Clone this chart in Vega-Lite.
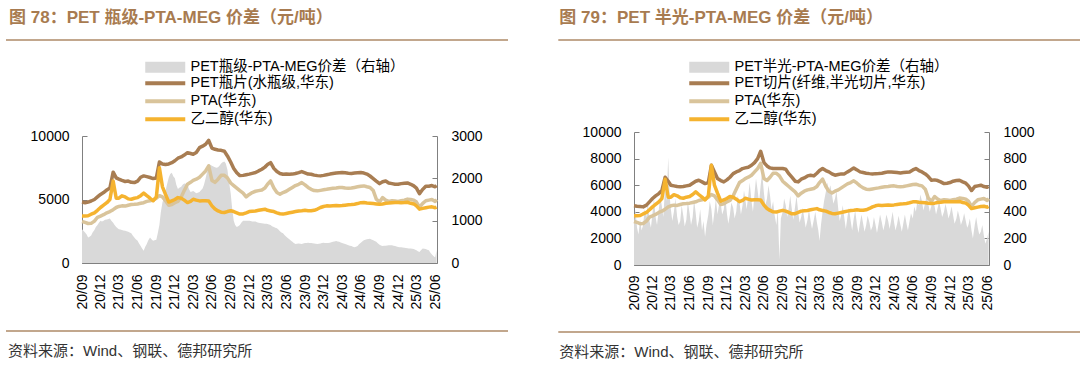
{
 "$schema": "https://vega.github.io/schema/vega-lite/v6.json",
 "background": "white",
 "padding": {"left": 5, "top": 0, "right": 0, "bottom": 0},
 "config": {
  "view": {"stroke": null},
  "font": "Liberation Sans, Noto Sans CJK SC",
  "axis": {"grid": false, "domainColor": "#808080", "tickColor": "#808080", "labelFontSize": 14, "labelColor": "#000000", "labelFont": "Liberation Sans, Noto Sans CJK SC", "tickSize": -5}
 },
 "datasets": {
  "rows": [
  {"d":"2020-09-01","petb":4800,"petf":4450,"pta":3270,"meg":3710},
  {"d":"2020-09-16","petb":4750,"petf":4420,"pta":3200,"meg":3700},
  {"d":"2020-10-01","petb":4800,"petf":4400,"pta":3110,"meg":3720},
  {"d":"2020-10-16","petb":4880,"petf":4370,"pta":3120,"meg":3840},
  {"d":"2020-11-01","petb":5000,"petf":4500,"pta":3300,"meg":3950},
  {"d":"2020-11-16","petb":5200,"petf":4750,"pta":3600,"meg":4150},
  {"d":"2020-12-01","petb":5400,"petf":5000,"pta":3700,"meg":4370},
  {"d":"2020-12-16","petb":5550,"petf":5200,"pta":3800,"meg":4550},
  {"d":"2021-01-01","petb":5750,"petf":5370,"pta":3950,"meg":4750},
  {"d":"2021-01-16","petb":5900,"petf":5600,"pta":4050,"meg":5000},
  {"d":"2021-02-01","petb":7150,"petf":6600,"pta":4200,"meg":6450},
  {"d":"2021-02-16","petb":6700,"petf":6300,"pta":4370,"meg":5100},
  {"d":"2021-03-01","petb":6600,"petf":6000,"pta":4450,"meg":5100},
  {"d":"2021-03-16","petb":6500,"petf":5950,"pta":4500,"meg":5290},
  {"d":"2021-04-01","petb":6420,"petf":5900,"pta":4480,"meg":5200},
  {"d":"2021-04-16","petb":6450,"petf":5880,"pta":4550,"meg":5050},
  {"d":"2021-05-01","petb":6350,"petf":5900,"pta":4600,"meg":5020},
  {"d":"2021-05-16","petb":6330,"petf":5950,"pta":4620,"meg":5100},
  {"d":"2021-06-01","petb":6450,"petf":6000,"pta":4650,"meg":5150},
  {"d":"2021-06-16","petb":6750,"petf":6150,"pta":4700,"meg":5300},
  {"d":"2021-07-01","petb":6860,"petf":6300,"pta":4750,"meg":5500},
  {"d":"2021-07-16","petb":6800,"petf":6370,"pta":4850,"meg":5300},
  {"d":"2021-08-01","petb":6730,"petf":6250,"pta":4900,"meg":5100},
  {"d":"2021-08-16","petb":6650,"petf":6120,"pta":4950,"meg":4900},
  {"d":"2021-09-01","petb":6700,"petf":6200,"pta":5100,"meg":5200},
  {"d":"2021-09-16","petb":7950,"petf":7500,"pta":5300,"meg":7500},
  {"d":"2021-10-01","petb":7800,"petf":7000,"pta":5200,"meg":6000},
  {"d":"2021-10-16","petb":7750,"petf":6500,"pta":4900,"meg":5400},
  {"d":"2021-11-01","petb":7800,"petf":6350,"pta":4550,"meg":4800},
  {"d":"2021-11-16","petb":7900,"petf":6250,"pta":4600,"meg":4900},
  {"d":"2021-12-01","petb":8050,"petf":6400,"pta":4750,"meg":5000},
  {"d":"2021-12-16","petb":8250,"petf":6600,"pta":4850,"meg":5150},
  {"d":"2022-01-01","petb":8350,"petf":6870,"pta":5200,"meg":5100},
  {"d":"2022-01-16","petb":8500,"petf":7000,"pta":5700,"meg":4950},
  {"d":"2022-02-01","petb":8690,"petf":7100,"pta":6200,"meg":4760},
  {"d":"2022-02-16","petb":8620,"petf":7250,"pta":6350,"meg":4850},
  {"d":"2022-03-01","petb":8560,"petf":7300,"pta":6500,"meg":5020},
  {"d":"2022-03-16","petb":8700,"petf":7350,"pta":6600,"meg":4950},
  {"d":"2022-04-01","petb":9080,"petf":7500,"pta":6750,"meg":4890},
  {"d":"2022-04-16","petb":9200,"petf":7700,"pta":7000,"meg":4900},
  {"d":"2022-05-01","petb":9350,"petf":8000,"pta":7250,"meg":4900},
  {"d":"2022-05-16","petb":9650,"petf":8550,"pta":7650,"meg":4890},
  {"d":"2022-06-01","petb":9050,"petf":7700,"pta":6500,"meg":4500},
  {"d":"2022-06-16","petb":8950,"petf":7450,"pta":6350,"meg":4250},
  {"d":"2022-07-01","petb":8900,"petf":7300,"pta":6600,"meg":4100},
  {"d":"2022-07-16","petb":8870,"petf":7250,"pta":6900,"meg":4000},
  {"d":"2022-08-01","petb":8800,"petf":7250,"pta":6900,"meg":3980},
  {"d":"2022-08-16","petb":8430,"petf":7250,"pta":6700,"meg":4050},
  {"d":"2022-09-01","petb":7950,"petf":7250,"pta":6300,"meg":4110},
  {"d":"2022-09-16","petb":7450,"petf":7200,"pta":6100,"meg":4050},
  {"d":"2022-10-01","petb":7100,"petf":6870,"pta":5900,"meg":3950},
  {"d":"2022-10-16","petb":6880,"petf":6600,"pta":5700,"meg":3850},
  {"d":"2022-11-01","petb":6900,"petf":6300,"pta":5500,"meg":3860},
  {"d":"2022-11-16","petb":6950,"petf":6250,"pta":5200,"meg":3950},
  {"d":"2022-12-01","petb":7000,"petf":6450,"pta":5400,"meg":4050},
  {"d":"2022-12-16","petb":7060,"petf":6550,"pta":5550,"meg":4080},
  {"d":"2023-01-01","petb":7120,"petf":6700,"pta":5650,"meg":4100},
  {"d":"2023-01-16","petb":7250,"petf":6750,"pta":5700,"meg":4150},
  {"d":"2023-02-01","petb":7380,"petf":6700,"pta":5750,"meg":4200},
  {"d":"2023-02-16","petb":7550,"petf":6900,"pta":5900,"meg":4240},
  {"d":"2023-03-01","petb":7750,"petf":7100,"pta":6200,"meg":4150},
  {"d":"2023-03-16","petb":7900,"petf":7250,"pta":6460,"meg":4100},
  {"d":"2023-04-01","petb":7450,"petf":7100,"pta":5900,"meg":4050},
  {"d":"2023-04-16","petb":7200,"petf":7000,"pta":5550,"meg":3950},
  {"d":"2023-05-01","petb":7050,"petf":6850,"pta":5420,"meg":3880},
  {"d":"2023-05-16","petb":6990,"petf":6750,"pta":5550,"meg":3850},
  {"d":"2023-06-01","petb":7000,"petf":6800,"pta":5650,"meg":3900},
  {"d":"2023-06-16","petb":6990,"petf":6850,"pta":5800,"meg":3950},
  {"d":"2023-07-01","petb":7000,"petf":6850,"pta":5950,"meg":4000},
  {"d":"2023-07-16","petb":7050,"petf":7000,"pta":6100,"meg":4050},
  {"d":"2023-08-01","petb":7120,"petf":7150,"pta":6200,"meg":4100},
  {"d":"2023-08-16","petb":7200,"petf":7300,"pta":6330,"meg":4120},
  {"d":"2023-09-01","petb":7100,"petf":7150,"pta":6150,"meg":4150},
  {"d":"2023-09-16","petb":7000,"petf":7000,"pta":5950,"meg":4120},
  {"d":"2023-10-01","petb":6990,"petf":6950,"pta":5800,"meg":4110},
  {"d":"2023-10-16","petb":6920,"petf":6900,"pta":5700,"meg":4150},
  {"d":"2023-11-01","petb":6880,"petf":6870,"pta":5680,"meg":4250},
  {"d":"2023-11-16","petb":6860,"petf":6850,"pta":5720,"meg":4370},
  {"d":"2023-12-01","petb":6900,"petf":6870,"pta":5760,"meg":4450},
  {"d":"2023-12-16","petb":6950,"petf":6880,"pta":5800,"meg":4500},
  {"d":"2024-01-01","petb":7000,"petf":6900,"pta":5850,"meg":4480},
  {"d":"2024-01-16","petb":7040,"petf":6950,"pta":5880,"meg":4500},
  {"d":"2024-02-01","petb":7080,"petf":7000,"pta":5900,"meg":4520},
  {"d":"2024-02-16","petb":7100,"petf":7000,"pta":5940,"meg":4500},
  {"d":"2024-03-01","petb":7120,"petf":6980,"pta":5950,"meg":4520},
  {"d":"2024-03-16","petb":7100,"petf":6950,"pta":5900,"meg":4550},
  {"d":"2024-04-01","petb":7070,"petf":6920,"pta":5880,"meg":4580},
  {"d":"2024-04-16","petb":7050,"petf":6950,"pta":5900,"meg":4600},
  {"d":"2024-05-01","petb":7080,"petf":6980,"pta":5950,"meg":4630},
  {"d":"2024-05-16","petb":7100,"petf":7000,"pta":6000,"meg":4680},
  {"d":"2024-06-01","petb":7120,"petf":7150,"pta":6050,"meg":4750},
  {"d":"2024-06-16","petb":7080,"petf":7250,"pta":6070,"meg":4760},
  {"d":"2024-07-01","petb":7000,"petf":7100,"pta":6000,"meg":4720},
  {"d":"2024-07-16","petb":6850,"petf":7000,"pta":5950,"meg":4700},
  {"d":"2024-08-01","petb":6650,"petf":6850,"pta":5700,"meg":4680},
  {"d":"2024-08-16","petb":6450,"petf":6650,"pta":5030,"meg":4650},
  {"d":"2024-09-01","petb":6250,"petf":6370,"pta":4800,"meg":4620},
  {"d":"2024-09-16","petb":6400,"petf":6400,"pta":5150,"meg":4650},
  {"d":"2024-10-01","petb":6460,"petf":6350,"pta":4950,"meg":4700},
  {"d":"2024-10-16","petb":6300,"petf":6250,"pta":4850,"meg":4720},
  {"d":"2024-11-01","petb":6250,"petf":6120,"pta":4900,"meg":4750},
  {"d":"2024-11-16","petb":6200,"petf":6150,"pta":4880,"meg":4760},
  {"d":"2024-12-01","petb":6200,"petf":6200,"pta":4850,"meg":4760},
  {"d":"2024-12-16","petb":6250,"petf":6300,"pta":4900,"meg":4750},
  {"d":"2025-01-01","petb":6280,"petf":6350,"pta":4950,"meg":4760},
  {"d":"2025-01-16","petb":6300,"petf":6370,"pta":5030,"meg":4780},
  {"d":"2025-02-01","petb":6200,"petf":6250,"pta":5000,"meg":4700},
  {"d":"2025-02-16","petb":6070,"petf":6150,"pta":4950,"meg":4650},
  {"d":"2025-03-01","petb":5900,"petf":5950,"pta":4800,"meg":4500},
  {"d":"2025-03-16","petb":5450,"petf":5600,"pta":4400,"meg":4240},
  {"d":"2025-04-01","petb":5800,"petf":5900,"pta":4700,"meg":4300},
  {"d":"2025-04-16","petb":6050,"petf":5950,"pta":4900,"meg":4350},
  {"d":"2025-05-01","petb":6050,"petf":6000,"pta":4950,"meg":4400},
  {"d":"2025-05-16","petb":6100,"petf":5900,"pta":5000,"meg":4420},
  {"d":"2025-06-01","petb":6000,"petf":5850,"pta":4850,"meg":4350},
  {"d":"2025-06-08","petb":6100,"petf":5900,"pta":5000,"meg":4400}
  ],
  "sp": [
  {"d":"2020-09-01","spb":800,"spf":320},{"d":"2020-09-08","spb":760,"spf":420},{"d":"2020-09-16","spb":720,"spf":280},{"d":"2020-09-23","spb":680,"spf":230},
  {"d":"2020-10-01","spb":600,"spf":340},{"d":"2020-10-08","spb":620,"spf":260},{"d":"2020-10-16","spb":650,"spf":300},{"d":"2020-10-23","spb":720,"spf":420},
  {"d":"2020-11-01","spb":780,"spf":360},{"d":"2020-11-08","spb":850,"spf":480},{"d":"2020-11-16","spb":900,"spf":330},{"d":"2020-11-23","spb":950,"spf":280},
  {"d":"2020-12-01","spb":1000,"spf":390},{"d":"2020-12-08","spb":980,"spf":500},{"d":"2020-12-16","spb":1000,"spf":360},{"d":"2020-12-23","spb":1020,"spf":300},
  {"d":"2021-01-01","spb":1030,"spf":420},{"d":"2021-01-08","spb":1040,"spf":520},{"d":"2021-01-16","spb":1050,"spf":440},{"d":"2021-01-23","spb":1000,"spf":360},
  {"d":"2021-02-01","spb":950,"spf":600},{"d":"2021-02-08","spb":900,"spf":480},{"d":"2021-02-16","spb":850,"spf":810},{"d":"2021-02-23","spb":820,"spf":520},
  {"d":"2021-03-01","spb":800,"spf":420},{"d":"2021-03-08","spb":790,"spf":330},{"d":"2021-03-16","spb":780,"spf":400},{"d":"2021-03-23","spb":770,"spf":500},
  {"d":"2021-04-01","spb":760,"spf":360},{"d":"2021-04-08","spb":750,"spf":300},{"d":"2021-04-16","spb":740,"spf":330},{"d":"2021-04-23","spb":720,"spf":450},
  {"d":"2021-05-01","spb":700,"spf":370},{"d":"2021-05-08","spb":650,"spf":290},{"d":"2021-05-16","spb":600,"spf":340},{"d":"2021-05-23","spb":560,"spf":480},
  {"d":"2021-06-01","spb":525,"spf":390},{"d":"2021-06-08","spb":460,"spf":300},{"d":"2021-06-16","spb":400,"spf":360},{"d":"2021-06-23","spb":340,"spf":490},
  {"d":"2021-07-01","spb":290,"spf":390},{"d":"2021-07-08","spb":380,"spf":280},{"d":"2021-07-16","spb":450,"spf":330},{"d":"2021-07-23","spb":530,"spf":420},
  {"d":"2021-08-01","spb":600,"spf":260},{"d":"2021-08-08","spb":560,"spf":330},{"d":"2021-08-16","spb":525,"spf":212},{"d":"2021-08-23","spb":540,"spf":300},
  {"d":"2021-09-01","spb":550,"spf":380},{"d":"2021-09-08","spb":700,"spf":480},{"d":"2021-09-16","spb":900,"spf":420},{"d":"2021-09-23","spb":1200,"spf":300},
  {"d":"2021-10-01","spb":1430,"spf":400},{"d":"2021-10-08","spb":1550,"spf":500},{"d":"2021-10-16","spb":1700,"spf":380},{"d":"2021-10-23","spb":1850,"spf":450},
  {"d":"2021-11-01","spb":2020,"spf":462},{"d":"2021-11-08","spb":2100,"spf":380},{"d":"2021-11-16","spb":2130,"spf":420},{"d":"2021-11-23","spb":2050,"spf":520},
  {"d":"2021-12-01","spb":2000,"spf":390},{"d":"2021-12-08","spb":1850,"spf":310},{"d":"2021-12-16","spb":1750,"spf":380},{"d":"2021-12-23","spb":1780,"spf":470},
  {"d":"2022-01-01","spb":1800,"spf":430},{"d":"2022-01-08","spb":1850,"spf":350},{"d":"2022-01-16","spb":1880,"spf":400},{"d":"2022-01-23","spb":1870,"spf":520},
  {"d":"2022-02-01","spb":1850,"spf":470},{"d":"2022-02-08","spb":1750,"spf":380},{"d":"2022-02-16","spb":1680,"spf":450},{"d":"2022-02-23","spb":1690,"spf":560},
  {"d":"2022-03-01","spb":1700,"spf":500},{"d":"2022-03-08","spb":1680,"spf":420},{"d":"2022-03-16","spb":1650,"spf":520},{"d":"2022-03-23","spb":1660,"spf":620},
  {"d":"2022-04-01","spb":1680,"spf":480},{"d":"2022-04-08","spb":1720,"spf":400},{"d":"2022-04-16","spb":1760,"spf":540},{"d":"2022-04-23","spb":1850,"spf":650},
  {"d":"2022-05-01","spb":2000,"spf":560},{"d":"2022-05-08","spb":2150,"spf":470},{"d":"2022-05-16","spb":2330,"spf":600},{"d":"2022-05-23","spb":2320,"spf":700},
  {"d":"2022-06-01","spb":2300,"spf":540},{"d":"2022-06-08","spb":2280,"spf":450},{"d":"2022-06-16","spb":2260,"spf":500},{"d":"2022-06-23","spb":2250,"spf":600},
  {"d":"2022-07-01","spb":2260,"spf":520},{"d":"2022-07-08","spb":2300,"spf":420},{"d":"2022-07-16","spb":2350,"spf":480},{"d":"2022-07-23","spb":2380,"spf":380},
  {"d":"2022-08-01","spb":2400,"spf":300},{"d":"2022-08-08","spb":2350,"spf":420},{"d":"2022-08-16","spb":2200,"spf":40},{"d":"2022-08-23","spb":1950,"spf":350},
  {"d":"2022-09-01","spb":1650,"spf":400},{"d":"2022-09-08","spb":1300,"spf":500},{"d":"2022-09-16","spb":1000,"spf":450},{"d":"2022-09-23","spb":900,"spf":360},
  {"d":"2022-10-01","spb":850,"spf":430},{"d":"2022-10-08","spb":870,"spf":520},{"d":"2022-10-16","spb":900,"spf":420},{"d":"2022-10-23","spb":950,"spf":340},
  {"d":"2022-11-01","spb":1000,"spf":440},{"d":"2022-11-08","spb":1000,"spf":520},{"d":"2022-11-16","spb":1000,"spf":400},{"d":"2022-11-23","spb":1000,"spf":320},
  {"d":"2022-12-01","spb":1000,"spf":360},{"d":"2022-12-08","spb":990,"spf":430},{"d":"2022-12-16","spb":980,"spf":350},{"d":"2022-12-23","spb":980,"spf":280},
  {"d":"2023-01-01","spb":980,"spf":340},{"d":"2023-01-08","spb":960,"spf":420},{"d":"2023-01-16","spb":950,"spf":330},{"d":"2023-01-23","spb":945,"spf":270},
  {"d":"2023-02-01","spb":940,"spf":340},{"d":"2023-02-08","spb":935,"spf":400},{"d":"2023-02-16","spb":930,"spf":320},{"d":"2023-02-23","spb":925,"spf":260},
  {"d":"2023-03-01","spb":920,"spf":180},{"d":"2023-03-08","spb":910,"spf":300},{"d":"2023-03-16","spb":900,"spf":400},{"d":"2023-03-23","spb":870,"spf":480},
  {"d":"2023-04-01","spb":850,"spf":550},{"d":"2023-04-08","spb":835,"spf":620},{"d":"2023-04-16","spb":820,"spf":560},{"d":"2023-04-23","spb":790,"spf":600},
  {"d":"2023-05-01","spb":750,"spf":530},{"d":"2023-05-08","spb":720,"spf":460},{"d":"2023-05-16","spb":700,"spf":500},{"d":"2023-05-23","spb":660,"spf":560},
  {"d":"2023-06-01","spb":620,"spf":420},{"d":"2023-06-08","spb":590,"spf":330},{"d":"2023-06-16","spb":560,"spf":380},{"d":"2023-06-23","spb":530,"spf":450},
  {"d":"2023-07-01","spb":500,"spf":350},{"d":"2023-07-08","spb":470,"spf":270},{"d":"2023-07-16","spb":450,"spf":360},{"d":"2023-07-23","spb":455,"spf":430},
  {"d":"2023-08-01","spb":460,"spf":330},{"d":"2023-08-08","spb":455,"spf":260},{"d":"2023-08-16","spb":450,"spf":350},{"d":"2023-08-23","spb":460,"spf":410},
  {"d":"2023-09-01","spb":470,"spf":300},{"d":"2023-09-08","spb":475,"spf":240},{"d":"2023-09-16","spb":480,"spf":320},{"d":"2023-09-23","spb":475,"spf":380},
  {"d":"2023-10-01","spb":470,"spf":310},{"d":"2023-10-08","spb":465,"spf":250},{"d":"2023-10-16","spb":460,"spf":300},{"d":"2023-10-23","spb":455,"spf":370},
  {"d":"2023-11-01","spb":450,"spf":320},{"d":"2023-11-08","spb":455,"spf":260},{"d":"2023-11-16","spb":460,"spf":290},{"d":"2023-11-23","spb":470,"spf":360},
  {"d":"2023-12-01","spb":480,"spf":300},{"d":"2023-12-08","spb":475,"spf":240},{"d":"2023-12-16","spb":470,"spf":310},{"d":"2023-12-23","spb":475,"spf":380},
  {"d":"2024-01-01","spb":480,"spf":320},{"d":"2024-01-08","spb":490,"spf":260},{"d":"2024-01-16","spb":500,"spf":310},{"d":"2024-01-23","spb":510,"spf":380},
  {"d":"2024-02-01","spb":520,"spf":330},{"d":"2024-02-08","spb":510,"spf":270},{"d":"2024-02-16","spb":500,"spf":340},{"d":"2024-02-23","spb":485,"spf":400},
  {"d":"2024-03-01","spb":470,"spf":320},{"d":"2024-03-08","spb":460,"spf":260},{"d":"2024-03-16","spb":450,"spf":310},{"d":"2024-03-23","spb":435,"spf":370},
  {"d":"2024-04-01","spb":420,"spf":300},{"d":"2024-04-08","spb":410,"spf":250},{"d":"2024-04-16","spb":400,"spf":320},{"d":"2024-04-23","spb":385,"spf":380},
  {"d":"2024-05-01","spb":370,"spf":310},{"d":"2024-05-08","spb":385,"spf":260},{"d":"2024-05-16","spb":400,"spf":330},{"d":"2024-05-23","spb":440,"spf":390},
  {"d":"2024-06-01","spb":480,"spf":350},{"d":"2024-06-08","spb":510,"spf":440},{"d":"2024-06-16","spb":540,"spf":400},{"d":"2024-06-23","spb":550,"spf":480},
  {"d":"2024-07-01","spb":560,"spf":450},{"d":"2024-07-08","spb":565,"spf":530},{"d":"2024-07-16","spb":570,"spf":480},{"d":"2024-07-23","spb":555,"spf":410},
  {"d":"2024-08-01","spb":540,"spf":470},{"d":"2024-08-08","spb":520,"spf":530},{"d":"2024-08-16","spb":500,"spf":460},{"d":"2024-08-23","spb":465,"spf":400},
  {"d":"2024-09-01","spb":430,"spf":450},{"d":"2024-09-08","spb":415,"spf":500},{"d":"2024-09-16","spb":400,"spf":440},{"d":"2024-09-23","spb":405,"spf":380},
  {"d":"2024-10-01","spb":410,"spf":430},{"d":"2024-10-08","spb":415,"spf":480},{"d":"2024-10-16","spb":420,"spf":420},{"d":"2024-10-23","spb":420,"spf":360},
  {"d":"2024-11-01","spb":420,"spf":400},{"d":"2024-11-08","spb":410,"spf":460},{"d":"2024-11-16","spb":400,"spf":410},{"d":"2024-11-23","spb":390,"spf":350},
  {"d":"2024-12-01","spb":380,"spf":390},{"d":"2024-12-08","spb":375,"spf":440},{"d":"2024-12-16","spb":370,"spf":370},{"d":"2024-12-23","spb":365,"spf":310},
  {"d":"2025-01-01","spb":360,"spf":350},{"d":"2025-01-08","spb":355,"spf":410},{"d":"2025-01-16","spb":350,"spf":360},{"d":"2025-01-23","spb":345,"spf":300},
  {"d":"2025-02-01","spb":340,"spf":340},{"d":"2025-02-08","spb":335,"spf":390},{"d":"2025-02-16","spb":330,"spf":330},{"d":"2025-02-23","spb":315,"spf":280},
  {"d":"2025-03-01","spb":300,"spf":300},{"d":"2025-03-08","spb":280,"spf":350},{"d":"2025-03-16","spb":260,"spf":260},{"d":"2025-03-23","spb":300,"spf":200},
  {"d":"2025-04-01","spb":340,"spf":300},{"d":"2025-04-08","spb":335,"spf":360},{"d":"2025-04-16","spb":330,"spf":280},{"d":"2025-04-23","spb":315,"spf":230},
  {"d":"2025-05-01","spb":300,"spf":250},{"d":"2025-05-08","spb":250,"spf":300},{"d":"2025-05-16","spb":200,"spf":220},{"d":"2025-05-23","spb":165,"spf":160},
  {"d":"2025-06-01","spb":130,"spf":200},{"d":"2025-06-08","spb":300,"spf":250}
  ]
 },
 "hconcat": [
  {
   "spacing": 19,
   "resolve": {"scale": {"color": "independent"}, "legend": {"color": "independent"}},
   "vconcat": [
    {
     "width": 426, "height": 40,
     "layer": [
      {
       "data": {"values": [{"t": "图 78：PET 瓶级-PTA-MEG 价差（元/吨）"}]},
       "mark": {"type": "text", "align": "left", "baseline": "middle", "fontSize": 17, "fontWeight": "bold", "color": "#A87B50"},
       "encoding": {
        "x": {"datum": 0.006, "type": "quantitative", "scale": {"domain": [0, 1], "range": [-76, 426]}, "axis": null},
        "y": {"datum": 0.55, "type": "quantitative", "scale": {"domain": [0, 1]}, "axis": null},
        "text": {"field": "t"}
       }
      },
      {
       "data": {"values": [{"t": "rule"}]},
       "mark": {"type": "rule", "color": "#AE8A67", "strokeWidth": 1.5},
       "encoding": {
        "x": {"datum": 0, "type": "quantitative", "scale": {"domain": [0, 1], "range": [-76, 426]}, "axis": null},
        "x2": {"datum": 1},
        "y": {"datum": 0, "type": "quantitative", "scale": {"domain": [0, 1]}, "axis": null}
       }
      }
     ]
    },
    {
     "width": 355, "height": 127,
     "data": {"name": "rows"},
     "encoding": {
      "x": {"field": "d", "type": "temporal",
       "scale": {"type": "utc", "domain": [{"year": 2020, "month": 9, "date": 1, "utc": true}, {"year": 2025, "month": 6, "date": 10, "utc": true}]},
       "axis": {"title": null, "format": "%y/%m", "labelAngle": 270, "labelPadding": 16, "labelOverlap": false, "labelFlush": false,
        "values": [
         {"year": 2020, "month": 9, "date": 1, "utc": true}, {"year": 2020, "month": 12, "date": 1, "utc": true},
         {"year": 2021, "month": 3, "date": 1, "utc": true}, {"year": 2021, "month": 6, "date": 1, "utc": true},
         {"year": 2021, "month": 9, "date": 1, "utc": true}, {"year": 2021, "month": 12, "date": 1, "utc": true},
         {"year": 2022, "month": 3, "date": 1, "utc": true}, {"year": 2022, "month": 6, "date": 1, "utc": true},
         {"year": 2022, "month": 9, "date": 1, "utc": true}, {"year": 2022, "month": 12, "date": 1, "utc": true},
         {"year": 2023, "month": 3, "date": 1, "utc": true}, {"year": 2023, "month": 6, "date": 1, "utc": true},
         {"year": 2023, "month": 9, "date": 1, "utc": true}, {"year": 2023, "month": 12, "date": 1, "utc": true},
         {"year": 2024, "month": 3, "date": 1, "utc": true}, {"year": 2024, "month": 6, "date": 1, "utc": true},
         {"year": 2024, "month": 9, "date": 1, "utc": true}, {"year": 2024, "month": 12, "date": 1, "utc": true},
         {"year": 2025, "month": 3, "date": 1, "utc": true}, {"year": 2025, "month": 6, "date": 1, "utc": true}
        ]}}
     },
     "layer": [
      {
       "data": {"name": "sp"},
       "transform": [{"fold": ["spb"], "as": ["s", "v"]}],
       "mark": {"type": "area", "opacity": 1},
       "encoding": {
        "y": {"field": "v", "type": "quantitative", "stack": null, "scale": {"domain": [0, 3000], "nice": false},
         "axis": {"orient": "right", "title": null, "format": "d", "values": [0, 1000, 2000, 3000], "labelPadding": 19}},
        "color": {"field": "s", "type": "nominal",
         "scale": {"domain": ["spb", "petb", "pta", "meg"], "range": ["#D9D9D9", "#A87D52", "#D9C49B", "#F5B32F"]},
         "legend": {"title": null, "orient": "none", "legendX": 76, "legendY": -76, "direction": "vertical", "padding": 0,
          "symbolSize": 100, "labelOffset": 18, "labelFontSize": 14.5, "labelColor": "#000000", "labelLimit": 400, "rowPadding": 1,
          "labelFont": "Liberation Sans, Noto Sans CJK SC",
          "labelExpr": "datum.value==='spb'?'PET瓶级-PTA-MEG价差（右轴）':datum.value==='petb'?'PET瓶片(水瓶级,华东)':datum.value==='pta'?'PTA(华东)':'乙二醇(华东)'",
          "encode": {"symbols": {"update": {
           "shape": {"signal": "datum.value==='spb'?'M-4,-1.1H4V1.1H-4Z':'M-4,0H4'"},
           "fill": {"signal": "datum.value==='spb'?'#D9D9D9':'transparent'"},
           "stroke": {"signal": "datum.value==='spb'?'transparent':datum.value==='petb'?'#A87D52':datum.value==='pta'?'#D9C49B':'#F5B32F'"},
           "strokeWidth": {"signal": "datum.value==='spb'?0:4"},
           "opacity": {"value": 1}
          }}}}
        }
       }
      },
      {
       "transform": [{"fold": ["petb", "pta", "meg"], "as": ["s", "v"]}],
       "mark": {"type": "line", "strokeWidth": 3.5, "strokeJoin": "round"},
       "encoding": {
        "y": {"field": "v", "type": "quantitative", "scale": {"domain": [0, 10000], "nice": false},
         "axis": {"orient": "left", "title": null, "format": "d", "values": [0, 5000, 10000], "labelPadding": 18, "minExtent": 76}},
        "color": {"field": "s", "type": "nominal",
         "scale": {"domain": ["spb", "petb", "pta", "meg"], "range": ["#D9D9D9", "#A87D52", "#D9C49B", "#F5B32F"]},
         "legend": {"title": null, "orient": "none", "legendX": 76, "legendY": -76, "direction": "vertical", "padding": 0,
          "symbolSize": 100, "labelOffset": 18, "labelFontSize": 14.5, "labelColor": "#000000", "labelLimit": 400, "rowPadding": 1,
          "labelFont": "Liberation Sans, Noto Sans CJK SC",
          "labelExpr": "datum.value==='spb'?'PET瓶级-PTA-MEG价差（右轴）':datum.value==='petb'?'PET瓶片(水瓶级,华东)':datum.value==='pta'?'PTA(华东)':'乙二醇(华东)'",
          "encode": {"symbols": {"update": {
           "shape": {"signal": "datum.value==='spb'?'M-4,-1.1H4V1.1H-4Z':'M-4,0H4'"},
           "fill": {"signal": "datum.value==='spb'?'#D9D9D9':'transparent'"},
           "stroke": {"signal": "datum.value==='spb'?'transparent':datum.value==='petb'?'#A87D52':datum.value==='pta'?'#D9C49B':'#F5B32F'"},
           "strokeWidth": {"signal": "datum.value==='spb'?0:4"},
           "opacity": {"value": 1}
          }}}}
        }
       }
      }
     ],
     "resolve": {"scale": {"y": "independent"}}
    },
    {
     "width": 426, "height": 34,
     "layer": [
      {
       "data": {"values": [{"t": "rule"}]},
       "mark": {"type": "rule", "color": "#AE8A67", "strokeWidth": 1.5},
       "encoding": {
        "x": {"datum": 0, "type": "quantitative", "scale": {"domain": [0, 1], "range": [-76, 426]}, "axis": null},
        "x2": {"datum": 1},
        "y": {"datum": 0.94, "type": "quantitative", "scale": {"domain": [0, 1]}, "axis": null}
       }
      },
      {
       "data": {"values": [{"t": "资料来源：Wind、钢联、德邦研究所"}]},
       "mark": {"type": "text", "align": "left", "baseline": "middle", "fontSize": 15, "color": "#333333"},
       "encoding": {
        "x": {"datum": 0.004, "type": "quantitative", "scale": {"domain": [0, 1], "range": [-76, 426]}, "axis": null},
        "y": {"datum": 0.353, "type": "quantitative", "scale": {"domain": [0, 1]}, "axis": null},
        "text": {"field": "t"}
       }
      }
     ]
    }
   ]
  },
  {
   "spacing": 19,
   "resolve": {"scale": {"color": "independent"}, "legend": {"color": "independent"}},
   "vconcat": [
    {
     "width": 447, "height": 40,
     "layer": [
      {
       "data": {"values": [{"t": "图 79：PET 半光-PTA-MEG 价差（元/吨）"}]},
       "mark": {"type": "text", "align": "left", "baseline": "middle", "fontSize": 17, "fontWeight": "bold", "color": "#A87B50"},
       "encoding": {
        "x": {"datum": 0.002, "type": "quantitative", "scale": {"domain": [0, 1], "range": [-75.7, 447]}, "axis": null},
        "y": {"datum": 0.55, "type": "quantitative", "scale": {"domain": [0, 1]}, "axis": null},
        "text": {"field": "t"}
       }
      },
      {
       "data": {"values": [{"t": "rule"}]},
       "mark": {"type": "rule", "color": "#AE8A67", "strokeWidth": 1.5},
       "encoding": {
        "x": {"datum": 0, "type": "quantitative", "scale": {"domain": [0, 1], "range": [-75.7, 447]}, "axis": null},
        "x2": {"datum": 1},
        "y": {"datum": 0, "type": "quantitative", "scale": {"domain": [0, 1]}, "axis": null}
       }
      }
     ]
    },
    {
     "width": 355, "height": 133,
     "data": {"name": "rows"},
     "encoding": {
      "x": {"field": "d", "type": "temporal",
       "scale": {"type": "utc", "domain": [{"year": 2020, "month": 9, "date": 1, "utc": true}, {"year": 2025, "month": 6, "date": 10, "utc": true}]},
       "axis": {"title": null, "format": "%y/%m", "labelAngle": 270, "labelPadding": 15, "labelOverlap": false, "labelFlush": false,
        "values": [
         {"year": 2020, "month": 9, "date": 1, "utc": true}, {"year": 2020, "month": 12, "date": 1, "utc": true},
         {"year": 2021, "month": 3, "date": 1, "utc": true}, {"year": 2021, "month": 6, "date": 1, "utc": true},
         {"year": 2021, "month": 9, "date": 1, "utc": true}, {"year": 2021, "month": 12, "date": 1, "utc": true},
         {"year": 2022, "month": 3, "date": 1, "utc": true}, {"year": 2022, "month": 6, "date": 1, "utc": true},
         {"year": 2022, "month": 9, "date": 1, "utc": true}, {"year": 2022, "month": 12, "date": 1, "utc": true},
         {"year": 2023, "month": 3, "date": 1, "utc": true}, {"year": 2023, "month": 6, "date": 1, "utc": true},
         {"year": 2023, "month": 9, "date": 1, "utc": true}, {"year": 2023, "month": 12, "date": 1, "utc": true},
         {"year": 2024, "month": 3, "date": 1, "utc": true}, {"year": 2024, "month": 6, "date": 1, "utc": true},
         {"year": 2024, "month": 9, "date": 1, "utc": true}, {"year": 2024, "month": 12, "date": 1, "utc": true},
         {"year": 2025, "month": 3, "date": 1, "utc": true}, {"year": 2025, "month": 6, "date": 1, "utc": true}
        ]}}
     },
     "layer": [
      {
       "data": {"name": "sp"},
       "transform": [{"fold": ["spf"], "as": ["s", "v"]}],
       "mark": {"type": "area", "opacity": 1},
       "encoding": {
        "y": {"field": "v", "type": "quantitative", "stack": null, "scale": {"domain": [0, 1000], "nice": false},
         "axis": {"orient": "right", "title": null, "format": "d", "values": [0, 200, 400, 600, 800, 1000], "labelPadding": 19}},
        "color": {"field": "s", "type": "nominal",
         "scale": {"domain": ["spf", "petf", "pta", "meg"], "range": ["#D9D9D9", "#A87D52", "#D9C49B", "#F5B32F"]},
         "legend": {"title": null, "orient": "none", "legendX": 68, "legendY": -72, "direction": "vertical", "padding": 0,
          "symbolSize": 100, "labelOffset": 18, "labelFontSize": 14.5, "labelColor": "#000000", "labelLimit": 400, "rowPadding": 1,
          "labelFont": "Liberation Sans, Noto Sans CJK SC",
          "labelExpr": "datum.value==='spf'?'PET半光-PTA-MEG价差（右轴）':datum.value==='petf'?'PET切片(纤维,半光切片,华东)':datum.value==='pta'?'PTA(华东)':'乙二醇(华东)'",
          "encode": {"symbols": {"update": {
           "shape": {"signal": "datum.value==='spf'?'M-4,-1.1H4V1.1H-4Z':'M-4,0H4'"},
           "fill": {"signal": "datum.value==='spf'?'#D9D9D9':'transparent'"},
           "stroke": {"signal": "datum.value==='spf'?'transparent':datum.value==='petf'?'#A87D52':datum.value==='pta'?'#D9C49B':'#F5B32F'"},
           "strokeWidth": {"signal": "datum.value==='spf'?0:4"},
           "opacity": {"value": 1}
          }}}}
        }
       }
      },
      {
       "transform": [{"fold": ["petf", "pta", "meg"], "as": ["s", "v"]}],
       "mark": {"type": "line", "strokeWidth": 3.5, "strokeJoin": "round"},
       "encoding": {
        "y": {"field": "v", "type": "quantitative", "scale": {"domain": [0, 10000], "nice": false},
         "axis": {"orient": "left", "title": null, "format": "d", "values": [0, 2000, 4000, 6000, 8000, 10000], "labelPadding": 18, "minExtent": 75.7}},
        "color": {"field": "s", "type": "nominal",
         "scale": {"domain": ["spf", "petf", "pta", "meg"], "range": ["#D9D9D9", "#A87D52", "#D9C49B", "#F5B32F"]},
         "legend": {"title": null, "orient": "none", "legendX": 68, "legendY": -72, "direction": "vertical", "padding": 0,
          "symbolSize": 100, "labelOffset": 18, "labelFontSize": 14.5, "labelColor": "#000000", "labelLimit": 400, "rowPadding": 1,
          "labelFont": "Liberation Sans, Noto Sans CJK SC",
          "labelExpr": "datum.value==='spf'?'PET半光-PTA-MEG价差（右轴）':datum.value==='petf'?'PET切片(纤维,半光切片,华东)':datum.value==='pta'?'PTA(华东)':'乙二醇(华东)'",
          "encode": {"symbols": {"update": {
           "shape": {"signal": "datum.value==='spf'?'M-4,-1.1H4V1.1H-4Z':'M-4,0H4'"},
           "fill": {"signal": "datum.value==='spf'?'#D9D9D9':'transparent'"},
           "stroke": {"signal": "datum.value==='spf'?'transparent':datum.value==='petf'?'#A87D52':datum.value==='pta'?'#D9C49B':'#F5B32F'"},
           "strokeWidth": {"signal": "datum.value==='spf'?0:4"},
           "opacity": {"value": 1}
          }}}}
        }
       }
      }
     ],
     "resolve": {"scale": {"y": "independent"}}
    },
    {
     "width": 447, "height": 34,
     "layer": [
      {
       "data": {"values": [{"t": "rule"}]},
       "mark": {"type": "rule", "color": "#AE8A67", "strokeWidth": 1.5},
       "encoding": {
        "x": {"datum": 0, "type": "quantitative", "scale": {"domain": [0, 1], "range": [-75.7, 447]}, "axis": null},
        "x2": {"datum": 1},
        "y": {"datum": 0.94, "type": "quantitative", "scale": {"domain": [0, 1]}, "axis": null}
       }
      },
      {
       "data": {"values": [{"t": "资料来源：Wind、钢联、德邦研究所"}]},
       "mark": {"type": "text", "align": "left", "baseline": "middle", "fontSize": 15, "color": "#333333"},
       "encoding": {
        "x": {"datum": 0.002, "type": "quantitative", "scale": {"domain": [0, 1], "range": [-75.7, 447]}, "axis": null},
        "y": {"datum": 0.353, "type": "quantitative", "scale": {"domain": [0, 1]}, "axis": null},
        "text": {"field": "t"}
       }
      }
     ]
    }
   ]
  }
 ],
 "spacing": 48,
 "resolve": {"scale": {"color": "independent"}, "legend": {"color": "independent"}}
}
